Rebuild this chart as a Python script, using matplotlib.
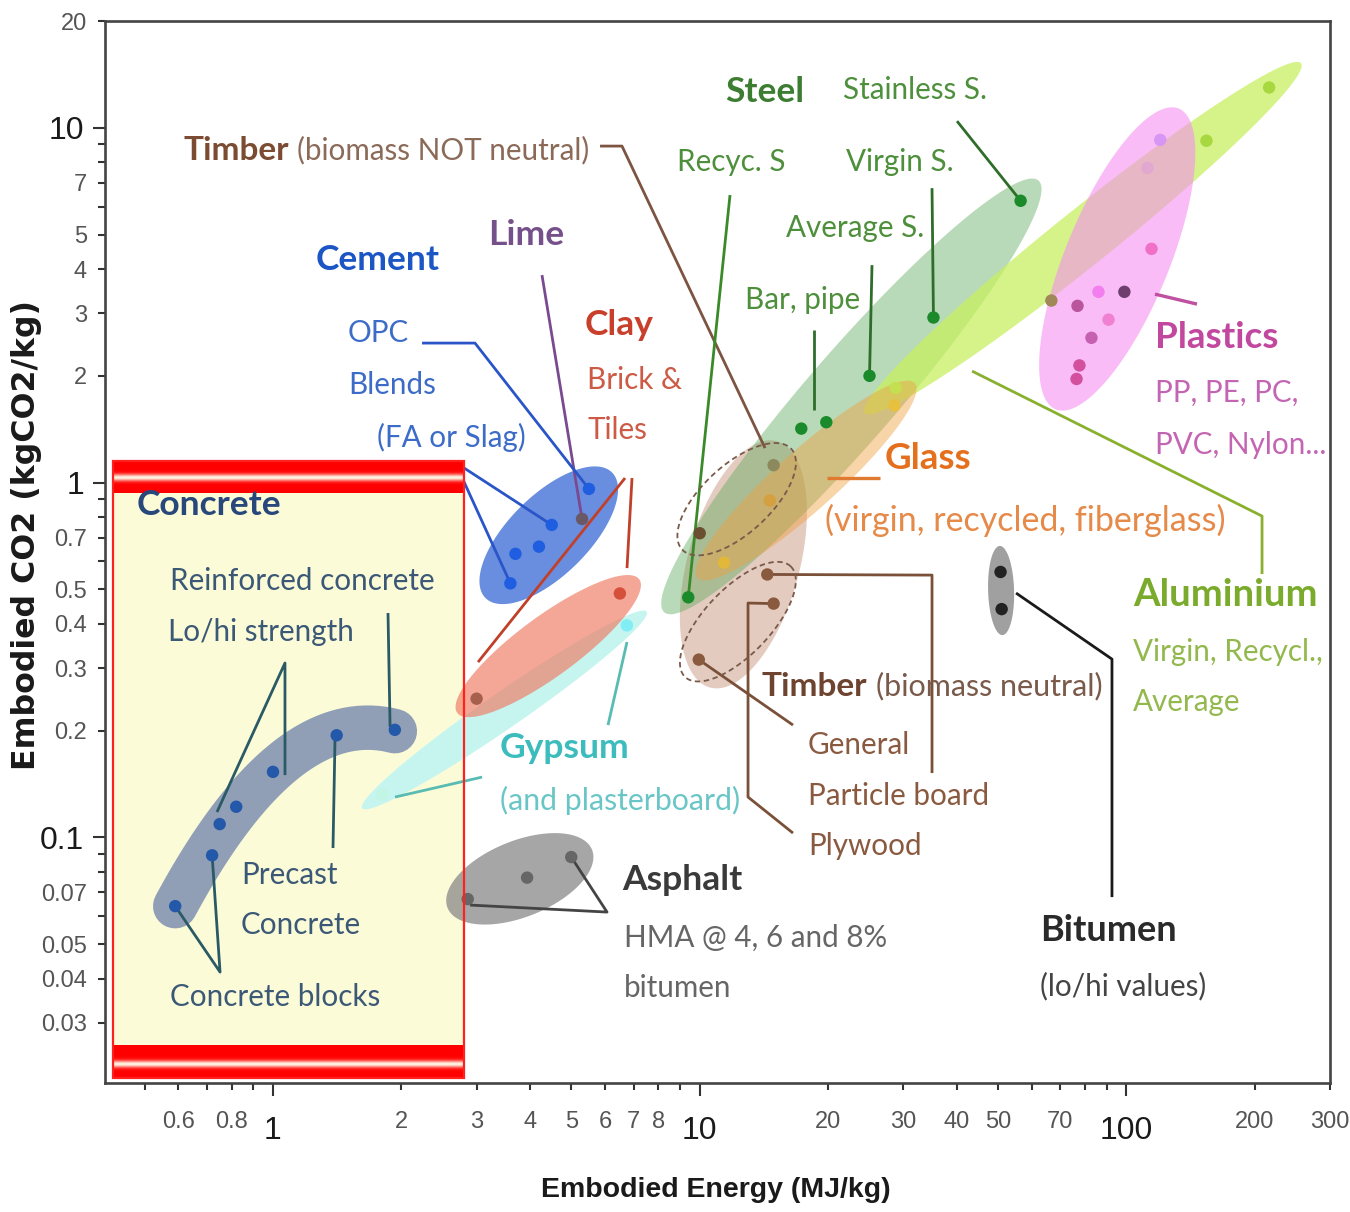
import numpy as np
import matplotlib
matplotlib.use("Agg")
import matplotlib.pyplot as plt
from matplotlib.patches import Polygon, Rectangle
from matplotlib.ticker import FixedLocator, FixedFormatter
from matplotlib import font_manager

# ---------------- data: embodied energy (MJ/kg) vs embodied CO2 (kgCO2/kg) ----------------
concrete_energy = [0.59, 0.72, 0.75, 0.82, 1.0, 1.41, 1.93]
concrete_co2 = [0.064, 0.089, 0.109, 0.122, 0.153, 0.194, 0.201]

cement_energy = [3.6, 3.7, 4.2, 4.5, 5.5]
cement_co2 = [0.52, 0.63, 0.66, 0.76, 0.96]

lime_energy = [5.3]
lime_co2 = [0.79]

clay_energy = [3.0, 6.5]
clay_co2 = [0.246, 0.487]

gypsum_energy = [1.8, 6.75]
gypsum_co2 = [0.132, 0.396]

asphalt_energy = [2.86, 3.94, 5.0]
asphalt_co2 = [0.067, 0.077, 0.088]

bitumen_energy = [50.7, 51.0]
bitumen_co2 = [0.56, 0.44]

timber_neutral_energy = [9.95, 14.4, 14.9]
timber_neutral_co2 = [0.317, 0.551, 0.456]

timber_fossil_energy = [10.0, 14.9]
timber_fossil_co2 = [0.72, 1.12]

glass_energy = [11.4, 14.6, 28.6]
glass_co2 = [0.595, 0.89, 1.65]

steel_energy = [9.4, 17.3, 19.8, 25.0, 35.3, 56.5]
steel_co2 = [0.475, 1.42, 1.48, 2.0, 2.92, 6.23]

aluminium_energy = [28.8, 154, 216]
aluminium_co2 = [1.85, 9.2, 13.0]

plastics_energy = [66.7, 76.4, 77.6, 76.8, 82.8, 86.0, 90.8, 98.9, 114.5, 112, 120]
plastics_co2 = [3.26, 1.96, 2.14, 3.15, 2.56, 3.45, 2.88, 3.45, 4.56, 7.71, 9.25]
plastics_colors = ['#a08858', '#d2509e', '#d2509e', '#b8559e', '#c660b0', '#f27ef0',
                   '#f080d2', '#6e3f6e', '#f070c8', '#e2a8d0', '#d896f4']

x_major = [1, 10, 100]
x_minor = [0.5, 0.6, 0.7, 0.8, 0.9, 2, 3, 4, 5, 6, 7, 8, 9,
           20, 30, 40, 50, 60, 70, 80, 90, 200, 300]
x_minor_labels = ['', '0.6', '', '0.8', '', '2', '3', '4', '5', '6', '7', '8', '',
                  '20', '30', '40', '50', '', '70', '', '', '200', '300']
y_major = [0.1, 1, 10]
y_minor = [0.03, 0.04, 0.05, 0.06, 0.07, 0.08, 0.09, 0.2, 0.3, 0.4, 0.5, 0.6, 0.7,
           0.8, 0.9, 2, 3, 4, 5, 6, 7, 8, 9, 20]
y_minor_labels = ['0.03', '0.04', '0.05', '', '0.07', '', '', '0.2', '0.3', '0.4', '0.5',
                  '', '0.7', '', '', '2', '3', '4', '5', '', '7', '', '', '20']

# ---------------- fonts ----------------
available = {f.name for f in font_manager.fontManager.ttflist}


def pick(*names):
    for n in names:
        if n in available:
            return n
    return 'DejaVu Sans'


TICK_FONT = pick('Liberation Sans Narrow', 'Liberation Sans')
LABEL_FONT = pick('Lato', 'Open Sans', 'DejaVu Sans')
plt.rcParams['font.family'] = [TICK_FONT, 'DejaVu Sans']

# ---------------- figure and axes ----------------
fig = plt.figure(figsize=(13.5, 12.12), dpi=100, facecolor='white')
ax = fig.add_axes([0.0778, 0.1064, 0.9074, 0.8762])
ax.set_xscale('log')
ax.set_yscale('log')
ax.set_xlim(0.404, 300)
ax.set_ylim(0.0203, 20)

for sp in ax.spines.values():
    sp.set_linewidth(1.9)
    sp.set_color('#444444')

ax.xaxis.set_major_locator(FixedLocator(x_major))
ax.xaxis.set_major_formatter(FixedFormatter([str(v) for v in x_major]))
ax.xaxis.set_minor_locator(FixedLocator(x_minor))
ax.xaxis.set_minor_formatter(FixedFormatter(x_minor_labels))
ax.yaxis.set_major_locator(FixedLocator(y_major))
ax.yaxis.set_major_formatter(FixedFormatter(['0.1', '1', '10']))
ax.yaxis.set_minor_locator(FixedLocator(y_minor))
ax.yaxis.set_minor_formatter(FixedFormatter(y_minor_labels))

ax.tick_params(axis='both', which='major', direction='out', length=9, width=1.5,
               color='#333333', labelsize=23, labelcolor='#1a1a1a')
ax.tick_params(axis='both', which='minor', direction='out', length=5, width=1.5,
               color='#333333', labelsize=17, labelcolor='#555555')
ax.tick_params(axis='x', which='both', pad=15)
ax.tick_params(axis='y', which='minor', pad=8)
ax.tick_params(axis='y', which='major', pad=6)

fig.text(0.0193, 0.5586, 'Embodied CO2 (kgCO2/kg)', rotation=90, ha='center', va='center',
         fontsize=22.8, fontweight='bold', family='DejaVu Sans', color='#1a1a1a')
fig.text(0.530, 0.0182, 'Embodied Energy (MJ/kg)', ha='center', va='center',
         fontsize=20.5, fontweight='bold', family=[TICK_FONT, 'DejaVu Sans'], color='#1a1a1a')

# ---------------- highlighted concrete panel ----------------
box_x0, box_x1, box_y0, box_y1 = 0.0065, 0.2931, 0.0047, 0.5857
ax.add_patch(Rectangle((box_x0, box_y0), box_x1 - box_x0, box_y1 - box_y0,
                       transform=ax.transAxes, facecolor='#fbfbd8', edgecolor='none',
                       zorder=0.6))


def stripe(y_top, rows, peak, spread):
    """Red band with a soft white highlight, drawn one pixel row at a time."""
    h = 1.0 / 1062
    for r in range(rows):
        w = np.exp(-((r - peak) / spread) ** 2)
        col = (1.0, 0.95 * w, 0.88 * w)
        ax.add_patch(Rectangle((box_x0, y_top - (r + 1) * h), box_x1 - box_x0, h * 1.05,
                               transform=ax.transAxes, facecolor=col, edgecolor='none',
                               zorder=4))


stripe(box_y1, 32, 16.0, 3.5)
stripe(box_y0 + 33 / 1062, 33, 18.5, 3.5)
ax.add_patch(Rectangle((box_x0, box_y0), box_x1 - box_x0, box_y1 - box_y0,
                       transform=ax.transAxes, facecolor='none', edgecolor='#ff2020',
                       linewidth=1.6, zorder=4.1))


# ---------------- envelopes ----------------
def envelope(xs, ys, pad, half_w, **kw):
    """Ellipse around a group of points, built in screen space so it reads as an ellipse."""
    P = ax.transData.transform(np.column_stack([xs, ys]))
    c = P.mean(axis=0)
    if len(P) > 1:
        d = P - c
        vals, vecs = np.linalg.eigh(d.T @ d)
        u = vecs[:, np.argmax(vals)]
    else:
        u = np.array([0.0, 1.0])
    n = np.array([-u[1], u[0]])
    s = (P - c) @ u
    mid = c + u * (s.max() + s.min()) / 2
    a = (s.max() - s.min()) / 2 + pad
    t = np.linspace(0, 2 * np.pi, 240)
    pts = mid + np.outer(a * np.cos(t), u) + np.outer(half_w * np.sin(t), n)
    data = ax.transData.inverted().transform(pts)
    ax.add_patch(Polygon(data, closed=True, **kw))


timber_all_e = timber_neutral_energy + timber_fossil_energy
timber_all_c = timber_neutral_co2 + timber_fossil_co2
envelope(timber_all_e, timber_all_c, 24, 56, facecolor='#c89880', alpha=0.5,
         edgecolor='none', zorder=1.0)
envelope(gypsum_energy, gypsum_co2, 24, 18, facecolor='#c6f5f0', edgecolor='none',
         zorder=1.0)
envelope(cement_energy + lime_energy, cement_co2 + lime_co2, 28, 40, facecolor='#3f6fd6',
         alpha=0.78, edgecolor='none', zorder=1.1)
envelope(clay_energy, clay_co2, 24, 30, facecolor='#f07860', alpha=0.65, edgecolor='none',
         zorder=1.1)
envelope(asphalt_energy, asphalt_co2, 22, 38, facecolor='#888888', alpha=0.75,
         edgecolor='none', zorder=1.1)
envelope(bitumen_energy, bitumen_co2, 26, 13, facecolor='#909090', alpha=0.85,
         edgecolor='none', zorder=1.1)
envelope(steel_energy, steel_co2, 27, 45, facecolor='#5aa85a', alpha=0.42,
         edgecolor='none', zorder=1.2)
envelope(aluminium_energy, aluminium_co2, 40, 28, facecolor='#c8f060', alpha=0.75,
         edgecolor='none', zorder=1.25)
envelope(glass_energy, glass_co2, 30, 30, facecolor='#f0a040', alpha=0.45,
         edgecolor='none', zorder=1.3)
envelope(plastics_energy, plastics_co2, 36, 52, facecolor='#f590f0', alpha=0.6,
         edgecolor='none', zorder=1.35)
envelope(timber_fossil_energy, timber_fossil_co2, 24, 34, facecolor='none',
         edgecolor='#7a5a4a', linestyle=(0, (3, 2)), linewidth=1.3, zorder=2.5)
envelope(timber_neutral_energy, timber_neutral_co2, 22, 33, facecolor='none',
         edgecolor='#7a5a4a', linestyle=(0, (3, 2)), linewidth=1.3, zorder=2.5)

# concrete: thick curved band through the points (quadratic in screen space)
Pc = ax.transData.transform(np.column_stack([concrete_energy, concrete_co2]))
coef = np.polyfit(Pc[:, 0], Pc[:, 1], 2)
xx = np.linspace(Pc[:, 0].min(), Pc[:, 0].max(), 120)
band = ax.transData.inverted().transform(np.column_stack([xx, np.polyval(coef, xx)]))
ax.plot(band[:, 0], band[:, 1], color='#8a9ab4', linewidth=32, solid_capstyle='round',
        solid_joinstyle='round', alpha=0.95, zorder=1.0)


# ---------------- leader lines ----------------
def leader(points, color, lw=2.0, z=2.0):
    """points: ('a', x, y) in axes fraction or ('d', x, y) in data units."""
    disp = []
    for kind, x, y in points:
        tr = ax.transAxes if kind == 'a' else ax.transData
        disp.append(tr.transform((x, y)))
    pts = ax.transAxes.inverted().transform(np.array(disp))
    ax.plot(pts[:, 0], pts[:, 1], transform=ax.transAxes, color=color, linewidth=lw,
            solid_capstyle='butt', zorder=z)


brown = '#7d5441'
leader([('a', 0.4041, 0.8823), ('a', 0.4220, 0.8823), ('a', 0.5388, 0.5979)], brown)
leader([('a', 0.5102, 0.8362), ('d', steel_energy[0], steel_co2[0])], '#3a8a2a')
leader([('a', 0.5788, 0.7090), ('a', 0.5788, 0.6337)], '#2e6e2a')
leader([('a', 0.6261, 0.7702), ('d', steel_energy[3], steel_co2[3])], '#2e6e2a')
leader([('a', 0.6751, 0.8427), ('d', steel_energy[4], steel_co2[4])], '#2e6e2a')
leader([('a', 0.6955, 0.9058), ('d', steel_energy[5], steel_co2[5])], '#2e6e2a')
leader([('a', 0.3567, 0.7608), ('d', lime_energy[0], lime_co2[0])], '#7a4a90')
leader([('a', 0.2588, 0.6968), ('a', 0.3020, 0.6968), ('d', cement_energy[4], cement_co2[4])],
       '#2a55c8')
leader([('a', 0.2857, 0.5847), ('d', cement_energy[3], cement_co2[3])], '#2a55c8')
leader([('a', 0.2857, 0.5847), ('d', cement_energy[0], cement_co2[0])], '#2a55c8')
leader([('a', 0.4245, 0.5697), ('a', 0.3045, 0.3964)], '#c0402a')
leader([('a', 0.4302, 0.5697), ('a', 0.4261, 0.4849)], '#c0402a')
leader([('a', 0.4261, 0.4153), ('a', 0.4106, 0.3371)], '#58bcb2')
leader([('a', 0.3078, 0.2881), ('a', 0.2367, 0.2693)], '#58bcb2')
leader([('a', 0.0914, 0.2552), ('a', 0.1469, 0.3955), ('a', 0.1469, 0.2900)], '#2a5a66')
leader([('a', 0.2310, 0.4426), ('a', 0.2327, 0.3352)], '#2a5a66')
leader([('a', 0.1878, 0.3277), ('a', 0.1861, 0.2213)], '#2a5a66')
leader([('d', concrete_energy[0], concrete_co2[0]), ('a', 0.0939, 0.1045),
        ('d', concrete_energy[1], concrete_co2[1])], '#2a5a66')
leader([('d', asphalt_energy[2], asphalt_co2[2]), ('a', 0.4098, 0.1610),
        ('a', 0.2980, 0.1676)], '#444444')
leader([('a', 0.7437, 0.4614), ('a', 0.8220, 0.3992), ('a', 0.8220, 0.1751)], '#1a1a1a')
leader([('d', timber_neutral_energy[0], timber_neutral_co2[0]), ('a', 0.5616, 0.3371)],
       '#7a5038')
leader([('d', timber_neutral_energy[1], timber_neutral_co2[1]), ('a', 0.6751, 0.4783),
        ('a', 0.6751, 0.2919)], '#7a5038')
leader([('d', timber_neutral_energy[2], timber_neutral_co2[2]), ('a', 0.5249, 0.4520),
        ('a', 0.5249, 0.2693), ('a', 0.5616, 0.2354)], '#7a5038')
leader([('a', 0.5894, 0.5697), ('a', 0.6327, 0.5697)], '#e07a30', lw=2.4)
leader([('a', 0.8571, 0.7429), ('a', 0.8914, 0.7335)], '#c050a0', lw=2.4)
leader([('a', 0.7078, 0.6704), ('a', 0.9445, 0.5339), ('a', 0.9445, 0.4793)], '#8ab030')

# ---------------- points ----------------
S = 80
ax.scatter(concrete_energy, concrete_co2, s=S, color='#2458a8', edgecolors='none', zorder=3)
ax.scatter(cement_energy, cement_co2, s=S, color='#1f5ee0', edgecolors='none', zorder=3)
ax.scatter(lime_energy, lime_co2, s=S, color='#6a5866', edgecolors='none', zorder=3)
ax.scatter(clay_energy, clay_co2, s=S, color=['#a8604e', '#d4503a'], edgecolors='none', zorder=3)
ax.scatter(gypsum_energy, gypsum_co2, s=S, color=['#c2f5e4', '#80eef4'], edgecolors='none',
           zorder=3)
ax.scatter(asphalt_energy, asphalt_co2, s=S, color='#666666', edgecolors='none', zorder=3)
ax.scatter(bitumen_energy, bitumen_co2, s=S, color='#222222', edgecolors='none', zorder=3)
ax.scatter(timber_neutral_energy, timber_neutral_co2, s=S, color='#8a5a3e', edgecolors='none',
           zorder=3)
ax.scatter(timber_fossil_energy, timber_fossil_co2, s=S, color=['#6a5030', '#8c8a5c'],
           edgecolors='none', zorder=3)
ax.scatter(glass_energy, glass_co2, s=S, color=['#e2b83a', '#d4a040', '#e8c040'],
           edgecolors='none', zorder=3)
ax.scatter(steel_energy, steel_co2, s=S, color='#1a8a2a', edgecolors='none', zorder=3)
ax.scatter(aluminium_energy, aluminium_co2, s=S, color=['#c4e050', '#a8d840', '#a8d840'],
           edgecolors='none', zorder=3)
ax.scatter(plastics_energy, plastics_co2, s=S, color=plastics_colors, edgecolors='none',
           zorder=3)

# ---------------- labels ----------------
BIG = 25.5
MED = 21.3

labels = [
    ("Timber", 0.0637, 0.8785, 24, '#7b4b32', 'bold'),
    ("(biomass NOT neutral)", 0.1567, 0.8785, MED, '#8b6a58', 'normal'),
    ("Steel", 0.5061, 0.9331, BIG, '#3c7d32', 'bold'),
    ("Stainless S.", 0.6024, 0.9350, MED, '#4e8f3c', 'normal'),
    ("Recyc. S", 0.4669, 0.8672, MED, '#4e8f3c', 'normal'),
    ("Virgin S.", 0.6049, 0.8672, MED, '#4e8f3c', 'normal'),
    ("Average S.", 0.5559, 0.8051, MED, '#4e8f3c', 'normal'),
    ("Bar, pipe", 0.5224, 0.7373, MED, '#4e8f3c', 'normal'),
    ("Cement", 0.1722, 0.7750, BIG, '#1b56c4', 'bold'),
    ("Lime", 0.3127, 0.7985, BIG, '#76508a', 'bold'),
    ("OPC", 0.1984, 0.7062, MED, '#3d6cc8', 'normal'),
    ("Blends", 0.1984, 0.6573, MED, '#3d6cc8', 'normal'),
    ("(FA or Slag)", 0.2220, 0.6083, MED, '#3d6cc8', 'normal'),
    ("Clay", 0.3918, 0.7137, BIG, '#c8402c', 'bold'),
    ("Brick &", 0.3935, 0.6620, MED, '#cc5a44', 'normal'),
    ("Tiles", 0.3935, 0.6149, MED, '#cc5a44', 'normal'),
    ("Plastics", 0.8571, 0.7024, 26.5, '#c2479e', 'bold'),
    ("PP, PE, PC,", 0.8571, 0.6497, MED, '#c465b3', 'normal'),
    ("PVC, Nylon...", 0.8571, 0.6008, MED, '#c465b3', 'normal'),
    ("Glass", 0.6367, 0.5885, 26.5, '#e4701e', 'bold'),
    ("(virgin, recycled, fiberglass)", 0.5878, 0.5301, 24.5, '#e58a48', 'normal'),
    ("Aluminium", 0.8392, 0.4595, 27.5, '#7bab2c', 'bold'),
    ("Virgin, Recycl.,", 0.8392, 0.4058, MED, '#93b84e', 'normal'),
    ("Average", 0.8392, 0.3588, MED, '#93b84e', 'normal'),
    ("Timber", 0.5363, 0.3738, 24, '#6e4430', 'bold'),
    ("(biomass neutral)", 0.6294, 0.3738, 22, '#7a5a4a', 'normal'),
    ("General", 0.5739, 0.3183, MED, '#8a5a40', 'normal'),
    ("Particle board", 0.5739, 0.2702, MED, '#8a5a40', 'normal'),
    ("Plywood", 0.5739, 0.2232, MED, '#8a5a40', 'normal'),
    ("Gypsum", 0.3224, 0.3154, BIG, '#3cbcbc', 'bold'),
    ("(and plasterboard)", 0.3224, 0.2665, 21.8, '#6ac6c6', 'normal'),
    ("Asphalt", 0.4220, 0.1911, BIG, '#3a3a3a', 'bold'),
    ("HMA @ 4, 6 and 8%", 0.4237, 0.1365, MED, '#666666', 'normal'),
    ("bitumen", 0.4237, 0.0895, MED, '#666666', 'normal'),
    ("Bitumen", 0.7633, 0.1441, 26, '#2a2a2a', 'bold'),
    ("(lo/hi values)", 0.7633, 0.0913, MED, '#444444', 'normal'),
    ("Concrete", 0.0261, 0.5443, BIG, '#28477a', 'bold'),
    ("Reinforced concrete", 0.0531, 0.4727, MED, '#3b5876', 'normal'),
    ("Lo/hi strength", 0.0514, 0.4247, MED, '#3b5876', 'normal'),
    ("Precast", 0.1110, 0.1959, MED, '#3b5876', 'normal'),
    ("Concrete", 0.1110, 0.1488, MED, '#3b5876', 'normal'),
    ("Concrete blocks", 0.0531, 0.0810, MED, '#3b5876', 'normal'),
]

for text, x, y, size, color, weight in labels:
    ax.text(x, y, text, transform=ax.transAxes, ha='left', va='center', fontsize=size,
            color=color, fontweight=weight, family=[LABEL_FONT, 'DejaVu Sans'], zorder=5)

fig.savefig('out.png', dpi=100, facecolor='white')
